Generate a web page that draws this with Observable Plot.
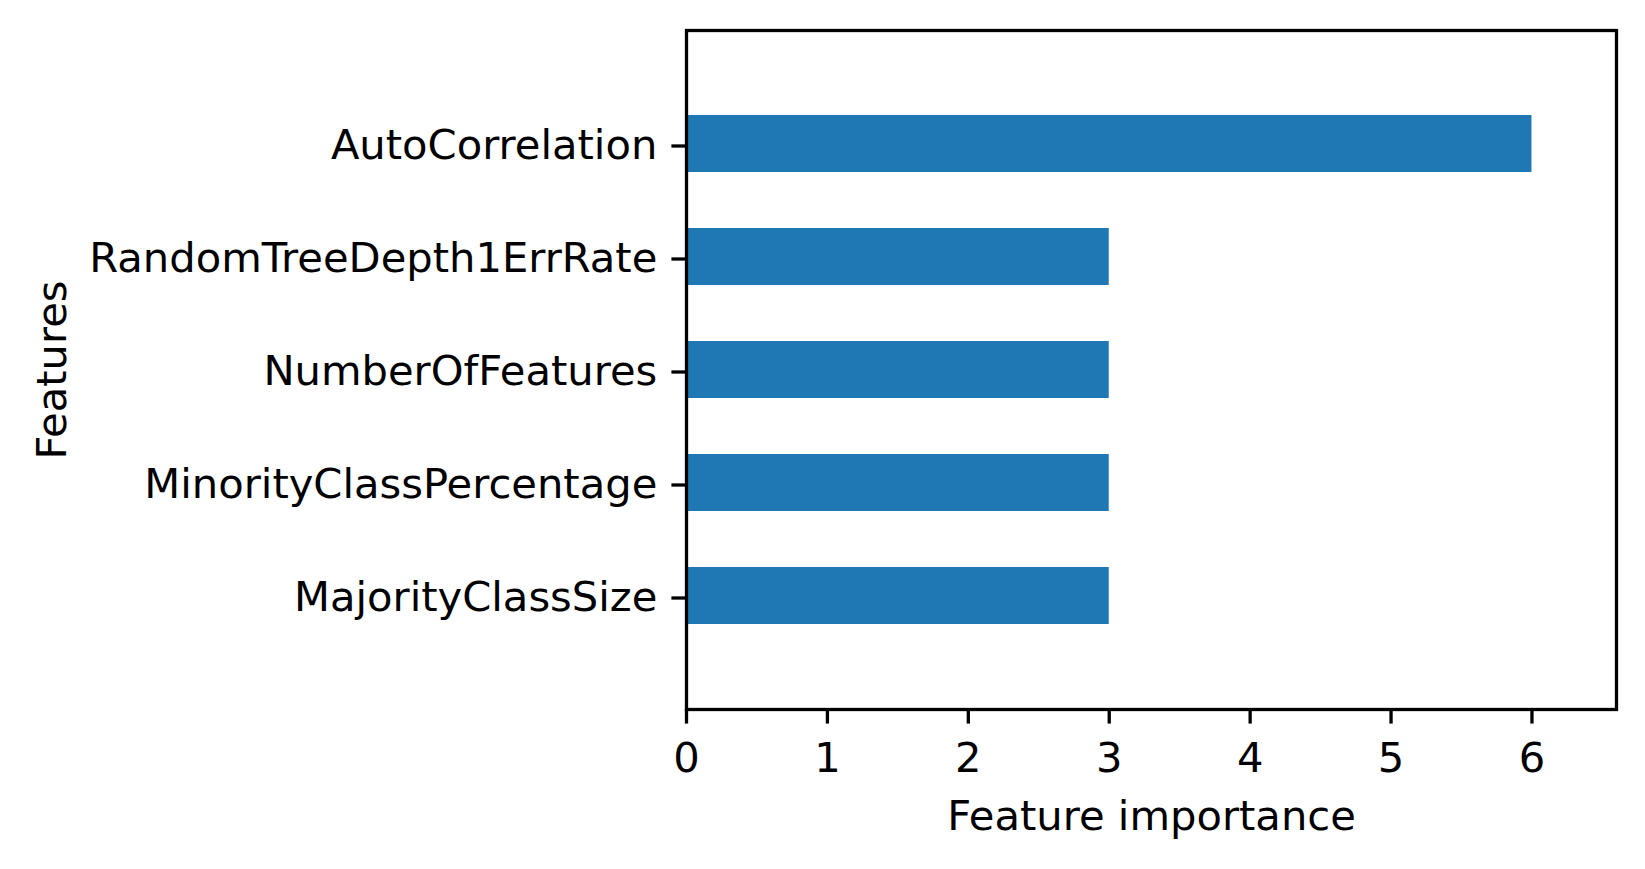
<!DOCTYPE html>
<html>
<head>
<meta charset="utf-8">
<script src="https://cdn.jsdelivr.net/npm/d3@7"></script>
<script src="https://cdn.jsdelivr.net/npm/@observablehq/plot@0.6"></script>
<style>
  html, body { margin: 0; padding: 0; background: white; }
</style>
</head>
<body>
<div id="chart"></div>
<script>
const features = ["AutoCorrelation", "RandomTreeDepth1ErrRate", "NumberOfFeatures", "MinorityClassPercentage", "MajorityClassSize"];
const importance = [6, 3, 3, 3, 3];
const xTicks = [0, 1, 2, 3, 4, 5, 6];
const xLabel = "Feature importance";
const yLabel = "Features";

const data = features.map((f, i) => ({feature: f, value: importance[i]}));

const chart = Plot.plot({
  width: 1645,
  height: 869,
  marginLeft: 686,
  marginRight: 29,
  marginTop: 30,
  marginBottom: 160,
  style: {fontFamily: "DejaVu Sans", fontSize: "41.67px", background: "white", color: "black"},
  x: {domain: [0, 6.6]},
  y: {domain: features, paddingInner: 0.5, paddingOuter: 0.75, align: 0.5},
  marks: [
    Plot.barX(data, {y: "feature", x: "value", fill: "#1f77b4"}),
    Plot.axisX({ticks: xTicks, tickFormat: d => String(d), tickSize: 14.6, tickPadding: 18, strokeWidth: 3.3, label: null}),
    Plot.axisY({tickSize: 14.6, tickPadding: 14.6, strokeWidth: 3.3, label: null, dy: 2}),
    Plot.frame({stroke: "black", strokeWidth: 3.3}),
    Plot.text([xLabel], {frameAnchor: "bottom", dy: 107, lineAnchor: "middle", textAnchor: "middle", text: d => d, fontSize: 41.67, fill: "black"}),
    Plot.text([yLabel], {frameAnchor: "left", dx: -634, rotate: -90, lineAnchor: "middle", textAnchor: "middle", text: d => d, fontSize: 41.67, fill: "black"})
  ]
});
document.getElementById("chart").append(chart);
</script>
</body>
</html>
